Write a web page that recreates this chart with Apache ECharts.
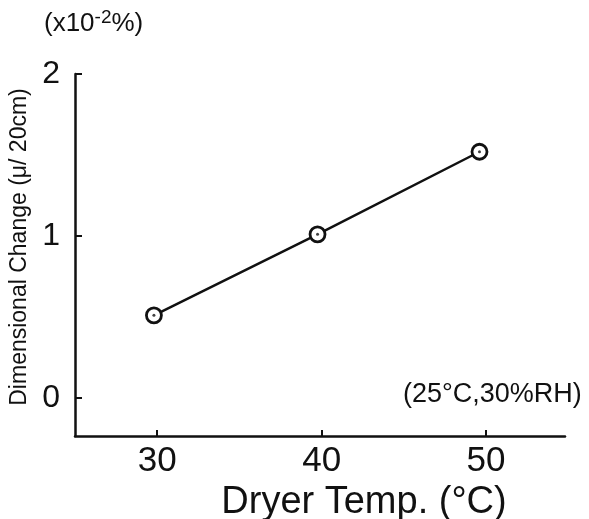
<!DOCTYPE html>
<html>
<head>
<meta charset="utf-8">
<script src="https://cdn.jsdelivr.net/npm/echarts@6/dist/echarts.min.js"></script>
<style>html,body{margin:0;padding:0;background:#fff;}#c{width:589px;height:519px;}</style>
</head>
<body>
<div id="c"></div>
<script>
const dryerTemp = [29.8, 39.75, 49.6];
const dimChange = [0.51, 1.01, 1.52];
const xTickValues = [30, 40, 50];
const yTickValues = [0, 1, 2];
const xName = 'Dryer Temp. (°C)';
const yName = 'Dimensional Change (μ/ 20cm)';
const conditionNote = '(25°C,30%RH)';

const pts = dryerTemp.map((x, i) => [x, dimChange[i]]);
const FONT = '"Liberation Sans", Arial, sans-serif';

const chart = echarts.init(document.getElementById('c'), null, {renderer: 'canvas'});
chart.setOption({
  animation: false,
  backgroundColor: '#fff',
  grid: {left: 75, top: 74, width: 490, height: 362, containLabel: false, outerBoundsMode: 'none'},
  title: {
    text: conditionNote,
    left: 398, top: 376,
    textStyle: {fontFamily: FONT, fontSize: 27, fontWeight: 'normal', color: '#111'}
  },
  graphic: [{
    type: 'text', left: 44, top: 8,
    style: {
      text: '(x10{sup|-2}%)',
      fontFamily: FONT, fontSize: 26, fill: '#111',
      rich: {sup: {fontFamily: FONT, fontSize: 19, verticalAlign: 'top', padding: [0,0,12,0], fill: '#111'}}
    }
  }],
  xAxis: {
    type: 'value', min: 25, max: 54.8,
    axisLine: {onZero: false, lineStyle: {color: '#111', width: 2.5}},
    axisTick: {inside: true, length: 6, customValues: xTickValues, lineStyle: {color: '#111', width: 2}},
    axisLabel: {customValues: xTickValues, fontFamily: FONT, fontSize: 35, color: '#111', margin: 8},
    splitLine: {show: false},
    name: xName, nameLocation: 'middle', nameGap: 45,
    nameTextStyle: {fontFamily: FONT, fontSize: 38, color: '#111', padding: [0, 0, 0, 88]}
  },
  yAxis: {
    type: 'value', min: -0.235, max: 2,
    axisLine: {onZero: false, lineStyle: {color: '#111', width: 2.5}},
    axisTick: {inside: true, length: 7, customValues: yTickValues, lineStyle: {color: '#111', width: 2}},
    axisLabel: {customValues: yTickValues, fontFamily: FONT, fontSize: 32, color: '#111', margin: 15},
    splitLine: {show: false},
    name: yName, nameLocation: 'middle', nameGap: 42, nameRotate: 90,
    nameTextStyle: {fontFamily: FONT, fontSize: 23, color: '#111', padding: [0, 0, 0, 16]}
  },
  series: [{
    type: 'line', data: pts,
    lineStyle: {color: '#111', width: 2.5},
    symbol: 'circle', symbolSize: 15,
    itemStyle: {color: '#fff', borderColor: '#111', borderWidth: 2.8},
    z: 2
  }, {
    type: 'scatter', data: pts,
    symbol: 'circle', symbolSize: 3,
    itemStyle: {color: '#111'},
    z: 3
  }]
});
</script>
</body>
</html>
